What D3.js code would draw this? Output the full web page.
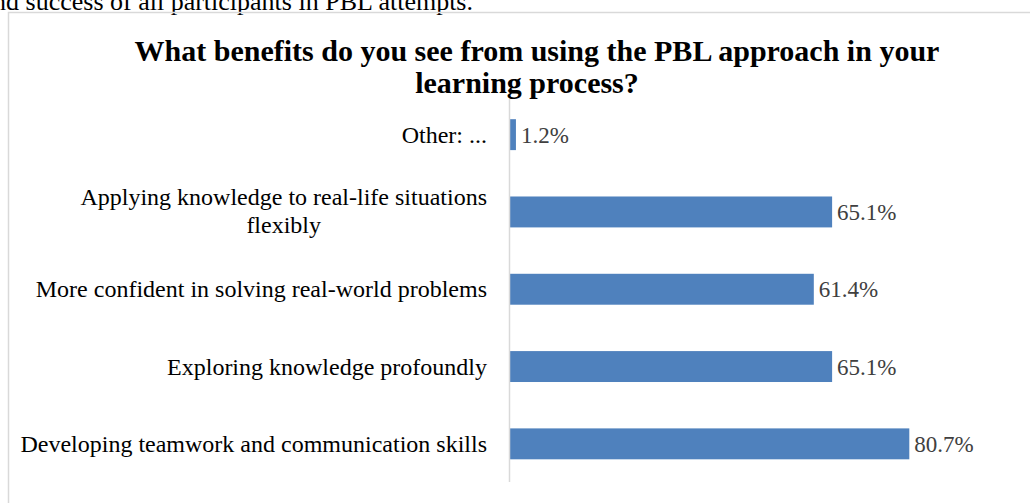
<!DOCTYPE html>
<html>
<head>
<meta charset="utf-8">
<script src="https://cdn.jsdelivr.net/npm/d3@7"></script>
<style>
  html, body { margin: 0; padding: 0; background: #fff; }
  svg { display: block; }
</style>
</head>
<body>
<svg id="chart" width="1030" height="503"></svg>
<script>
// Survey answers, listed top to bottom as drawn
const categories = [
  "Other: ...",
  "Applying knowledge to real-life situations flexibly",
  "More confident in solving real-world problems",
  "Exploring knowledge profoundly",
  "Developing teamwork and communication skills"
];
// Label lines for each category (wrapped answers get two lines)
const categoryLines = [
  ["Other: ..."],
  ["Applying knowledge to real-life situations", "flexibly"],
  ["More confident in solving real-world problems"],
  ["Exploring knowledge profoundly"],
  ["Developing teamwork and communication skills"]
];
const shares = [1.2, 65.1, 61.4, 65.1, 80.7];
const titleLines = [
  "What benefits do you see from using the PBL approach in your",
  "learning process?"
];
const bodyTextTail = "and success of all participants in PBL attempts.";

const svg = d3.select("#chart");
const serif = "'Liberation Serif', 'Times New Roman', serif";

// Tail of the paragraph above the figure
svg.append("text")
  .attr("x", 473).attr("y", 10)
  .attr("text-anchor", "end")
  .style("font-family", serif).style("font-size", "26px").style("fill", "#000")
  .text(bodyTextTail);

// Chart area frame
svg.append("rect")
  .attr("x", 8.5).attr("y", 12.5)
  .attr("width", 1040).attr("height", 520)
  .attr("fill", "none").attr("stroke", "#d9d9d9").attr("stroke-width", 1.5);

// Title (second line sits slightly left, as the first ends with a space)
const title = svg.append("text")
  .attr("text-anchor", "middle")
  .style("font-family", serif).style("font-size", "30px").style("font-weight", "bold")
  .style("fill", "#000");
const titleX = [537, 527];
titleLines.forEach((t, i) => {
  title.append("tspan").attr("x", titleX[i]).attr("y", 61 + i * 32).text(t);
});

const x0 = 510;
const x = d3.scaleLinear().domain([0, 100]).range([x0, x0 + 494.8]);
const y = d3.scaleBand().domain(categories).range([96, 482.5]).paddingInner(0.6).paddingOuter(0.3);

// Bars
svg.append("g").selectAll("rect")
  .data(categories)
  .join("rect")
  .attr("x", x(0))
  .attr("y", d => y(d))
  .attr("width", (d, i) => x(shares[i]) - x(0))
  .attr("height", y.bandwidth())
  .attr("fill", "#4f81bd");

// Category axis line
const axis = d3.axisLeft(y).tickSize(0).tickFormat("");
const axisG = svg.append("g").attr("transform", `translate(${x0 - 0.5},0)`).call(axis);
axisG.select(".domain").attr("d", "M0,99V482")
  .attr("stroke", "#d9d9d9").attr("stroke-width", 1.5);

// Category labels
const labelG = svg.append("g")
  .style("font-family", serif).style("font-size", "24px").style("fill", "#000");
categories.forEach((c, i) => {
  const lines = categoryLines[i];
  const cy = y(c) + y.bandwidth() / 2;
  const lh = 28;
  const t = labelG.append("text");
  if (lines.length === 1) {
    t.attr("x", 487).attr("y", cy + 8).attr("text-anchor", "end").text(lines[0]);
  } else {
    // wrapped label: lines centred on each other, block right-aligned
    const first = t.append("tspan").text(lines[0]);
    const w = first.node().getComputedTextLength();
    const cx = 487 - w / 2;
    t.attr("text-anchor", "middle");
    first.attr("x", cx).attr("y", cy + 7 - lh / 2);
    t.append("tspan").attr("x", cx).attr("y", cy + 7 + lh / 2).text(lines[1]);
  }
});

// Value labels
svg.append("g")
  .style("font-family", serif).style("font-size", "23px").style("fill", "#404040")
  .selectAll("text")
  .data(categories)
  .join("text")
  .attr("x", (d, i) => x(shares[i]) + 5)
  .attr("y", d => y(d) + y.bandwidth() / 2 + 8)
  .text((d, i) => d3.format(".1f")(shares[i]) + "%");
</script>
</body>
</html>
